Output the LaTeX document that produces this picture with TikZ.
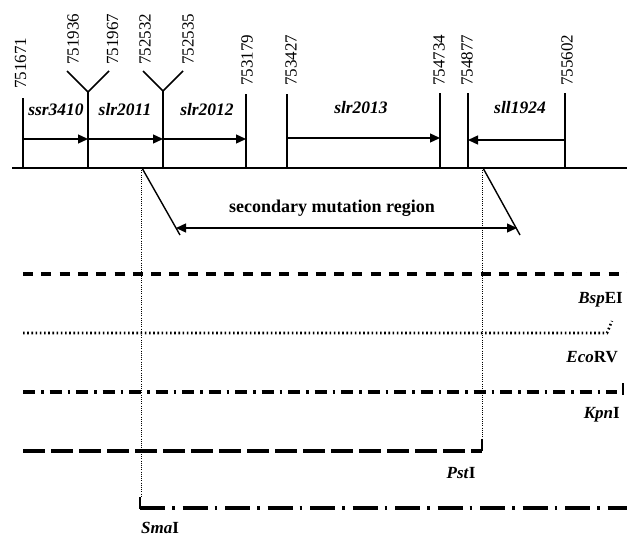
\documentclass[tikz,border=0pt]{standalone}
\usepackage{fontspec}
\setmainfont{Liberation Serif}
\usetikzlibrary{arrows.meta}
\begin{document}
\begin{tikzpicture}[x=1pt,y=-1pt,
  num/.style={rotate=90,anchor=west,inner sep=0pt,font=\fontsize{17}{20}\selectfont},
  gene/.style={inner sep=0pt,font=\fontsize{17.5}{20}\selectfont\bfseries\itshape},
  enz/.style={inner sep=0pt,font=\fontsize{17}{20}\selectfont\bfseries},
  tickline/.style={line width=2pt},
  thintick/.style={line width=1.1pt},
  armline/.style={line width=1.5pt},
  garrow/.style={line width=1.3pt,-{Triangle[length=10pt,width=9pt]}},
  darrow/.style={line width=1.3pt,{Triangle[length=10pt,width=9pt]}-{Triangle[length=10pt,width=9pt]}},
  guide/.style={line width=0.9pt,dash pattern=on 1pt off 1.2pt},
  bspline/.style={line width=3.2pt,dash pattern=on 10pt off 8.3pt},
  ecoline/.style={line width=2.6pt,dash pattern=on 1.6pt off 2.6pt},
  kpnline/.style={line width=3.2pt,dash pattern=on 12pt off 6pt on 2.5pt off 6pt},
  pstline/.style={line width=3.2pt,dash pattern=on 22pt off 6pt},
  smaline/.style={line width=3.2pt,dash pattern=on 25pt off 7pt on 2.5pt off 8pt},
  endbar/.style={line width=2.8pt}
]
\useasboundingbox (0,0) rectangle (627,538);

% baseline
\coordinate (L) at (12,168);
\coordinate (R) at (627,168);
\draw[line width=2.2pt] (L) -- (R);

% ticks
\coordinate (b1) at (22.7,168); \coordinate (t1) at (22.7,98);
\coordinate (b2) at (88,168);   \coordinate (j2) at (88,92);
\coordinate (l2) at (67,71);    \coordinate (r2) at (109,71);
\coordinate (b3) at (163,168);  \coordinate (j3) at (163,91);
\coordinate (l3) at (143,71);   \coordinate (r3) at (183,71);
\coordinate (b4) at (246,168);  \coordinate (t4) at (246,94);
\coordinate (b5) at (287,168);  \coordinate (t5) at (287,94);
\coordinate (b6) at (440,168);  \coordinate (t6) at (440,93);
\coordinate (b7) at (468,168);  \coordinate (t7) at (468,93);
\coordinate (b8) at (565,168);  \coordinate (t8) at (565,93);

\draw[tickline] (b1) -- (t1);
\draw[thintick] (b2) -- (j2);
\draw[armline] (l2) -- (j2) -- (r2);
\draw[tickline] (b3) -- (j3);
\draw[armline] (l3) -- (j3) -- (r3);
\draw[tickline] (b4) -- (t4);
\draw[tickline] (b5) -- (t5);
\draw[tickline] (b6) -- (t6);
\draw[tickline] (b7) -- (t7);
\draw[tickline] (b8) -- (t8);

% coordinate labels
\node[num] (n1) at (20.5,89) {751671};
\node[num] (n2) at (73,65) {751936};
\node[num] (n3) at (112.5,65) {751967};
\node[num] (n4) at (145,65) {752532};
\node[num] (n5) at (188,65) {752535};
\node[num] (n6) at (247,86) {753179};
\node[num] (n7) at (291,86) {753427};
\node[num] (n8) at (439,86) {754734};
\node[num] (n9) at (467,86) {754877};
\node[num] (n10) at (567,86) {755602};

% gene arrows
\coordinate (a1) at (22.7,139); \coordinate (a2) at (88,139);
\coordinate (a3) at (163,139);  \coordinate (a4) at (246,139);
\coordinate (a5) at (287,138);  \coordinate (a6) at (440,138);
\coordinate (a7) at (565,140);  \coordinate (a8) at (468,140);
\draw[garrow] (a1) -- (a2);
\draw[garrow] (a2) -- (a3);
\draw[garrow] (a3) -- (a4);
\draw[garrow] (a5) -- (a6);
\draw[garrow] (a7) -- (a8);

% gene names
\node[gene] (g1) at (56,110) {ssr3410};
\node[gene] (g2) at (125,110) {slr2011};
\node[gene] (g3) at (207,110) {slr2012};
\node[gene] (g4) at (361,108) {slr2013};
\node[gene] (g5) at (520,108) {sll1924};

% secondary mutation region
\coordinate (s1a) at (142,168); \coordinate (s1b) at (180,235);
\coordinate (s2a) at (483,168); \coordinate (s2b) at (520,235);
\draw[line width=1.4pt] (s1a) -- (s1b);
\draw[line width=1.4pt] (s2a) -- (s2b);
\coordinate (m1) at (176,228); \coordinate (m2) at (517,228);
\draw[darrow] (m1) -- (m2);
\node[inner sep=0pt,font=\fontsize{18}{20}\selectfont\bfseries] (smr) at (332,208) {secondary mutation region};

% restriction fragments
\coordinate (e1a) at (23,274); \coordinate (e1b) at (627,274);
\draw[bspline] (e1a) -- (e1b);
\node[enz,anchor=east] (bsp) at (623,300) {\textit{Bsp}EI};

\coordinate (e2a) at (23,333); \coordinate (e2b) at (607,333); \coordinate (e2c) at (612,321);
\draw[ecoline] (e2a) -- (e2b) -- (e2c);
\node[enz,anchor=east] (eco) at (618,357) {\textit{Eco}RV};

\coordinate (e3a) at (23,392); \coordinate (e3b) at (617,392);
\coordinate (e3c) at (623,383); \coordinate (e3d) at (623,395);
\draw[kpnline] (e3a) -- (e3b);
\draw[endbar] (e3c) -- (e3d);
\node[enz,anchor=east] (kpn) at (620,415) {\textit{Kpn}I};

\coordinate (e4a) at (23,451); \coordinate (e4b) at (482,451); \coordinate (e4c) at (482,439);
\draw[pstline] (e4a) -- (e4b);
\draw[endbar] (e4b) -- (e4c);
\node[enz] (pst) at (461,473) {\textit{Pst}I};

\coordinate (e5a) at (140,497); \coordinate (e5b) at (140,508); \coordinate (e5c) at (627,508);
\coordinate (e5d) at (152,508);
\draw[endbar] (e5a) -- (e5b) -- (e5d);
\draw[smaline] (e5b) -- (e5c);
\node[enz] (sma) at (160,528) {\textit{Sma}I};

% dotted guides
\coordinate (d1a) at (141,168); \coordinate (d1b) at (141,497);
\coordinate (d2a) at (482,168); \coordinate (d2b) at (482,439);
\draw[guide] (d1a) -- (d1b);
\draw[guide] (d2a) -- (d2b);
\end{tikzpicture}
\end{document}
